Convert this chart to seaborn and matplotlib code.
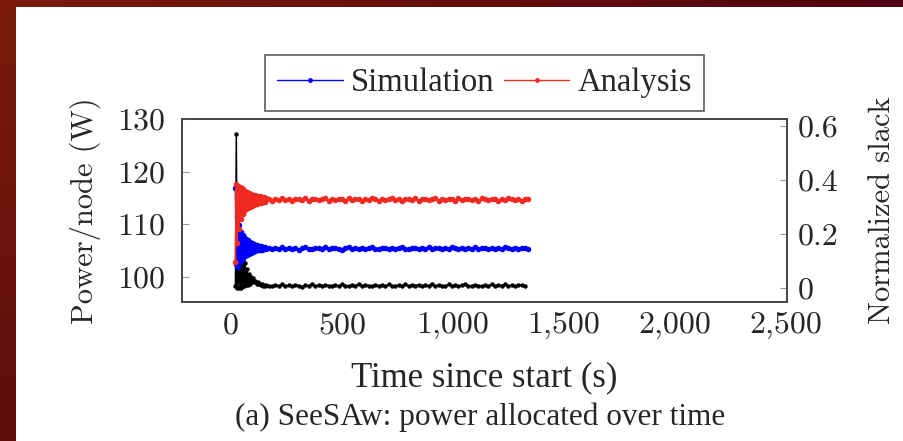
import numpy as np
import pandas as pd
import matplotlib
matplotlib.use("Agg")
import matplotlib.pyplot as plt
import seaborn as sns
from matplotlib.lines import Line2D

# ---------------- data ----------------
t_early = [20, 24, 28, 32, 36, 40, 44, 48, 52, 56, 60, 64, 68, 72, 76, 80,
           85, 90, 95, 100, 105, 110, 115, 120, 125, 130, 135, 140, 145, 150, 155, 160]
t_late = list(range(170, 1341, 15))

sim_early = [116.8, 102.5, 111.5, 101.8, 109.8, 102.9, 108.6, 103.2, 108.0, 103.6,
             107.6, 103.9, 107.2, 104.2, 106.9, 104.4, 106.6, 104.6, 106.4, 104.8,
             106.2, 104.9, 106.0, 105.0, 105.9, 105.1, 105.8, 105.1, 105.7, 105.2,
             105.7, 105.3]
sim_late = [105.4, 105.2, 105.5, 105.3, 105.6, 105.2, 105.4, 105.3, 105.5, 105.1,
            105.4, 105.6, 105.3, 105.2, 105.5, 105.4, 105.3, 105.6, 105.2, 105.4,
            105.5, 105.3, 105.1, 105.4, 105.6, 105.3, 105.4, 105.2, 105.5, 105.3,
            105.4, 105.6, 105.2, 105.3, 105.5, 105.4, 105.2, 105.5, 105.3, 105.4,
            105.6, 105.3, 105.2, 105.4, 105.5, 105.3, 105.4, 105.2, 105.6, 105.3,
            105.4, 105.5, 105.2, 105.4, 105.3, 105.6, 105.4, 105.2, 105.5, 105.3,
            105.4, 105.3, 105.6, 105.2, 105.4, 105.5, 105.3, 105.4, 105.2, 105.5,
            105.3, 105.6, 105.4, 105.3, 105.5, 105.2, 105.4, 105.5, 105.3]

ana_early = [102.9, 117.6, 106.5, 117.3, 109.0, 117.0, 111.0, 116.8, 112.0, 116.6,
             112.5, 116.4, 112.8, 116.2, 113.1, 116.0, 113.3, 115.8, 113.5, 115.6,
             113.7, 115.5, 113.9, 115.4, 114.0, 115.3, 114.1, 115.2, 114.2, 115.1,
             114.3, 115.0]
ana_late = [114.7, 114.5, 114.8, 114.6, 114.9, 114.6, 114.7, 114.5, 114.8, 114.7,
            114.6, 114.9, 114.5, 114.7, 114.8, 114.6, 114.7, 114.9, 114.5, 114.7,
            114.6, 114.8, 114.7, 114.5, 114.9, 114.6, 114.7, 114.8, 114.5, 114.7,
            114.6, 114.9, 114.7, 114.5, 114.8, 114.6, 114.7, 114.9, 114.6, 114.7,
            114.5, 114.8, 114.7, 114.6, 114.9, 114.5, 114.7, 114.8, 114.6, 114.7,
            114.9, 114.5, 114.7, 114.6, 114.8, 114.7, 114.5, 114.9, 114.6, 114.7,
            114.8, 114.6, 114.7, 114.5, 114.9, 114.7, 114.6, 114.8, 114.7, 114.5,
            114.8, 114.6, 114.9, 114.7, 114.6, 114.8, 114.5, 114.7, 114.8]

slack_early = [0.005, 0.57, 0.0, 0.16, 0.0, 0.14, 0.0, 0.12, 0.005, 0.10,
               0.005, 0.09, 0.01, 0.07, 0.01, 0.05, 0.015, 0.04, 0.02, 0.035,
               0.02, 0.025, 0.015, 0.02, 0.012, 0.015, 0.01, 0.012, 0.008, 0.01,
               0.007, 0.009]
slack_late = [0.008, 0.006, 0.010, 0.007, 0.012, 0.005, 0.009, 0.006, 0.011, 0.008,
              0.004, 0.010, 0.007, 0.013, 0.006, 0.009, 0.005, 0.011, 0.008, 0.007,
              0.010, 0.006, 0.012, 0.008, 0.005, 0.009, 0.007, 0.014, 0.006, 0.010,
              0.008, 0.005, 0.011, 0.007, 0.009, 0.006, 0.012, 0.008, 0.005, 0.010,
              0.007, 0.013, 0.006, 0.009, 0.008, 0.011, 0.005, 0.010, 0.007, 0.015,
              0.006, 0.009, 0.008, 0.005, 0.012, 0.007, 0.010, 0.006, 0.009, 0.013,
              0.007, 0.005, 0.011, 0.008, 0.006, 0.010, 0.007, 0.012, 0.005, 0.009,
              0.008, 0.014, 0.006, 0.010, 0.007, 0.009, 0.011, 0.006]

x_ticks = [0, 500, 1000, 1500, 2000, 2500]
x_ticklabels = ["0", "500", "1,000", "1,500", "2,000", "2,500"]
y_ticks = [100, 110, 120, 130]
y2_ticks = [0, 0.2, 0.4, 0.6]
y2_ticklabels = ["0", "0.2", "0.4", "0.6"]
series_names = ["Simulation", "Analysis"]

# ---------------- frames ----------------
t_all = t_early + t_late
df_sim = pd.DataFrame({"t": t_all, "v": sim_early + sim_late})
df_ana = pd.DataFrame({"t": t_all, "v": ana_early + ana_late})
slack_vals = slack_early + slack_late
df_slack = pd.DataFrame({"t": t_all[:len(slack_vals)], "v": slack_vals})

# ---------------- figure ----------------
sns.set_style("white")
plt.rcParams["axes.formatter.use_mathtext"] = True
W, H = 904, 441
fig = plt.figure(figsize=(W / 100, H / 100), dpi=100)
fig.patch.set_facecolor("white")

# slide border (gradient strips)
top = fig.add_axes([0, 1 - 7.5 / H, 1, 7.5 / H])
c0 = np.array([122, 27, 12]) / 255
c1 = np.array([80, 4, 16]) / 255
g = np.linspace(0, 1, 256)[:, None]
top.imshow((c0 + (c1 - c0) * g)[None, :, :], aspect="auto", extent=[0, 1, 0, 1])
top.axis("off")
left = fig.add_axes([0, 0, 16 / W, 1])
c2 = np.array([95, 13, 11]) / 255
left.imshow((c0 + (c2 - c0) * g)[:, None, :], aspect="auto", extent=[0, 1, 0, 1])
left.axis("off")

L, R, T, B = 181.7, 787.0, 119.0, 302.0
ax = fig.add_axes([L / W, 1 - B / H, (R - L) / W, (B - T) / H])
ax2 = ax.twinx()

mk = dict(marker="o", markersize=4.0, markeredgewidth=0, linewidth=1.2)
sns.lineplot(data=df_slack, x="t", y="v", ax=ax2, color="black", sort=False,
             estimator=None, zorder=2, marker="o", markersize=3.2,
             markeredgewidth=0, linewidth=1.1)
sns.lineplot(data=df_sim, x="t", y="v", ax=ax, color="#0000ff", sort=False,
             estimator=None, zorder=3, **mk)
sns.lineplot(data=df_ana, x="t", y="v", ax=ax, color="#f02a20", sort=False,
             estimator=None, zorder=3, **mk)

ax.set_zorder(ax2.get_zorder() + 1)
ax.patch.set_visible(False)

ax.set_xlim(-222, 2505)
ax.set_ylim(95.2, 130)
ax2.set_ylim(-0.053, 0.626)

cm = "cmr10"
tick_fs = 23
ax.set_xticks(x_ticks)
ax.set_xticklabels(x_ticklabels, fontfamily=cm, fontsize=tick_fs)
ax.set_yticks(y_ticks)
ax.set_yticklabels([str(v) for v in y_ticks], fontfamily=cm, fontsize=tick_fs)
ax2.set_yticks(y2_ticks)
ax2.set_yticklabels(y2_ticklabels, fontfamily=cm, fontsize=tick_fs)

ax.tick_params(axis="x", direction="in", length=5, width=0.8, color="#999999", pad=7)
ax.tick_params(axis="y", direction="in", length=5, width=0.8, color="#999999", pad=12,
               right=False)
ax2.tick_params(axis="y", direction="in", length=5, width=0.8, color="#999999", pad=8,
                left=False)

for a in (ax, ax2):
    for s in a.spines.values():
        s.set_color("#444444")
        s.set_linewidth(1.2)

ax.set_ylabel("Power/node (W)", fontfamily=cm, fontsize=22, va="center")
ax.yaxis.set_label_coords(-0.16, 0.5)
ax2.set_ylabel("Normalized slack", fontfamily=cm, fontsize=22, va="center",
               rotation=90)
ax2.yaxis.set_label_coords(1.157, 0.5)
ax.set_xlabel("Time since start (s)", fontfamily="Liberation Serif", fontsize=25,
              va="center")
ax.xaxis.set_label_coords(0.5, -0.415)

fig.text(480 / W, 1 - 417 / H, "(a) SeeSAw: power allocated over time",
         fontfamily="Liberation Serif", fontsize=22.5, ha="center", va="center")

handles = [Line2D([], [], color="#0000ff", marker="o", markersize=3.5,
                  markeredgewidth=0, linewidth=1.0),
           Line2D([], [], color="#f02a20", marker="o", markersize=3.5,
                  markeredgewidth=0, linewidth=1.0)]
leg = fig.legend(handles, series_names, loc="center",
                 bbox_to_anchor=(484.5 / W, 1 - 83 / H), ncol=2, frameon=True,
                 fancybox=False, prop={"family": "Liberation Serif", "size": 23.5},
                 handlelength=2.0, handletextpad=0.25, columnspacing=0.3,
                 borderpad=0.38, borderaxespad=0)
leg.get_frame().set_edgecolor("#333333")
leg.get_frame().set_linewidth(1.2)

fig.savefig("out.png", dpi=100, facecolor="white")
